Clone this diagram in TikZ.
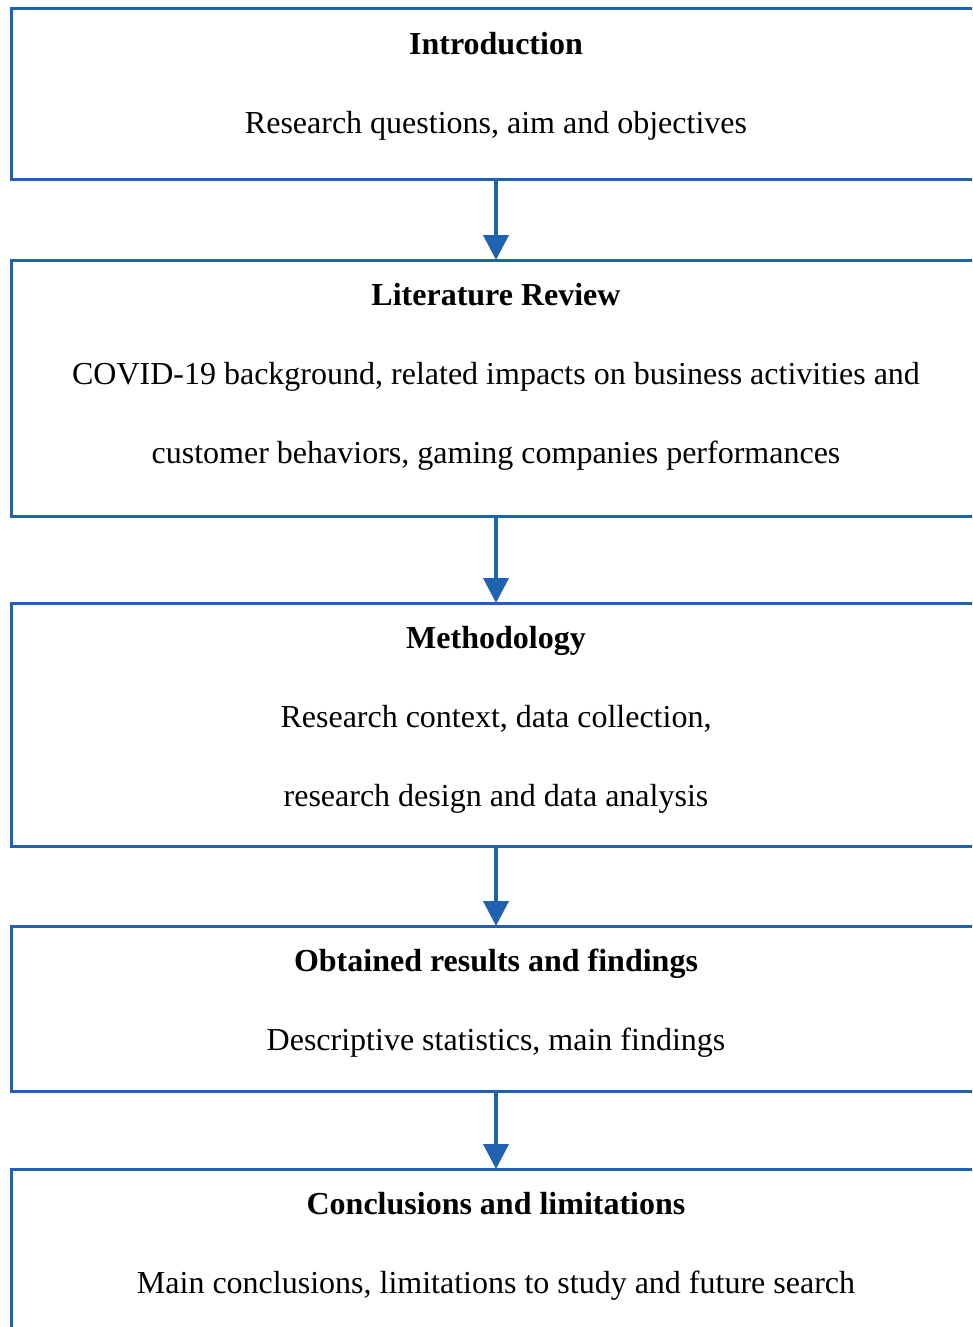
\documentclass[tikz,border=0pt]{standalone}
\usepackage{fontspec}
\setmainfont{Liberation Serif}
\usepackage{tikz}
\usetikzlibrary{positioning,arrows.meta}
\definecolor{boxblue}{RGB}{31,98,177}

\begin{document}
\begin{tikzpicture}[x=1pt, y=-1pt,
    stage/.style={draw=boxblue, line width=3pt, rectangle, minimum width=970pt, outer sep=0pt, inner sep=0pt},
    stagetext/.style={align=center, inner sep=0pt, font=\fontsize{32}{79}\selectfont},
    flow/.style={draw=boxblue, line width=4pt, -{Triangle[width=25pt, length=25pt]}}]
          \path[use as bounding box] (0,0) rectangle (972,1327);
          \clip (0,0) rectangle (972,1327);

          % the five stages
          \node[stage, minimum height=170pt] (intro) at (496,94) {};
          \node[stage, minimum height=256pt, below = 81pt of intro] (lit) {};
          \node[stage, minimum height=243pt, below = 87pt of lit] (meth) {};
          \node[stage, minimum height=165pt, below = 80pt of meth] (res) {};
          \node[stage, minimum height=170pt, below = 78pt of res] (concl) {};

          \node[stagetext, below = 23pt of intro.north] (introtxt) {\textbf{Introduction}\\Research questions, aim and objectives};
          \node[stagetext, below = 23pt of lit.north] (littxt) {\textbf{Literature Review}\\COVID-19 background, related impacts on business activities and\\customer behaviors, gaming companies performances};
          \node[stagetext, below = 23pt of meth.north] (methtxt) {\textbf{Methodology}\\Research context, data collection,\\research design and data analysis};
          \node[stagetext, below = 23pt of res.north] (restxt) {\textbf{Obtained results and findings}\\Descriptive statistics, main findings};
          \node[stagetext, below = 23pt of concl.north] (concltxt) {\textbf{Conclusions and limitations}\\Main conclusions, limitations to study and future search};

          \draw [flow] (intro.south) -- (lit.north);
          \draw [flow] (lit.south) -- (meth.north);
          \draw [flow] (meth.south) -- (res.north);
          \draw [flow] (res.south) -- (concl.north);
        \end{tikzpicture}
\end{document}
